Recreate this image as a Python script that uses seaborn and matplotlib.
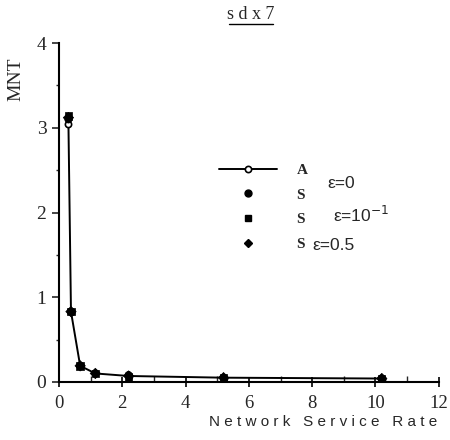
import matplotlib
matplotlib.use("Agg")
import matplotlib.pyplot as plt
import seaborn as sns
import pandas as pd
from matplotlib.lines import Line2D
from matplotlib.ticker import MultipleLocator

# network service rate (x) and MNT values
RATE = [0.3, 0.38, 0.67, 1.15, 2.2, 5.2, 10.2]
MNT_A = [3.04, 0.83, 0.19, 0.10, 0.07, 0.05, 0.04]
MNT_S_EPS0 = [3.10, 0.83, 0.19, 0.10, 0.08, 0.05, 0.04]
MNT_S_EPS01 = [3.14, 0.83, 0.19, 0.10, 0.06, 0.05, 0.04]
MNT_S_EPS05 = [3.12, 0.83, 0.19, 0.10, 0.07, 0.05, 0.04]

SERIES = ["A", "S0", "S01", "S05"]
X_TICKS = [0, 2, 4, 6, 8, 10, 12]
Y_TICKS = [0, 1, 2, 3, 4]


def main() -> None:
    sns.set_theme(style="ticks")
    plt.rcParams["font.family"] = ["Liberation Serif", "DejaVu Serif"]

    df = pd.DataFrame({
        "rate": RATE * 4,
        "mnt": MNT_A + MNT_S_EPS0 + MNT_S_EPS01 + MNT_S_EPS05,
        "series": [s for s in SERIES for _ in RATE],
    })

    fig = plt.figure(figsize=(4.5, 4.4), dpi=100)
    ax = fig.add_axes([0.131, 0.132, 0.844, 0.770])

    a = df[df["series"] == "A"]
    sns.lineplot(data=a, x="rate", y="mnt", color="black", lw=1.4,
                 marker="o", markersize=4.5, markerfacecolor="white",
                 markeredgecolor="black", markeredgewidth=1.2, ax=ax, zorder=2)
    # square / circle / diamond markers for the S runs
    sub = df[df["series"] != "A"]
    sns.scatterplot(data=sub, x="rate", y="mnt", style="series",
                    markers={"S0": "o", "S01": "s", "S05": "D"},
                    color="black", s=28, edgecolor="black", linewidth=0.5,
                    legend=False, ax=ax, zorder=3)

    ax.set_xlim(0, 12)
    ax.set_ylim(0, 4)
    ax.set_xticks(X_TICKS)
    ax.set_yticks(Y_TICKS)
    ax.xaxis.set_minor_locator(MultipleLocator(1))
    ax.yaxis.set_minor_locator(MultipleLocator(0.5))
    ax.tick_params(axis="x", which="major", direction="inout", length=7, width=1.2,
                   labelsize=13.5, pad=6, color="black")
    ax.tick_params(axis="x", which="minor", direction="in", length=4, width=1.0)
    ax.tick_params(axis="y", which="major", direction="out", length=5, width=1.2,
                   labelsize=14, pad=4)
    ax.tick_params(axis="y", which="minor", direction="out", length=2.5, width=1.0)
    for s in ["left", "bottom"]:
        ax.spines[s].set_linewidth(1.5)
        ax.spines[s].set_color("black")
    sns.despine(ax=ax)
    ax.set_xlabel("")
    ax.set_ylabel("")

    fig.text(0.035, 0.82, "MNT", rotation=90, fontsize=14, ha="center", va="center")
    fig.text(0.972, 0.042, "N e t w o r k   S e r v i c e   R a t e", fontsize=11,
             family=["Liberation Sans", "DejaVu Sans"], ha="right", va="center")
    fig.text(0.557, 0.968, "s d x 7", fontsize=13, ha="center", va="center")
    fig.add_artist(Line2D([0.508, 0.607], [0.946, 0.946], color="black", lw=1.0,
                          transform=fig.transFigure))

    handles = [
        Line2D([], [], color="black", lw=1.4, marker="o", markersize=4.5,
               markerfacecolor="white", markeredgewidth=1.2),
        Line2D([], [], color="black", lw=0, marker="o", markersize=5),
        Line2D([], [], color="black", lw=0, marker="s", markersize=5),
        Line2D([], [], color="black", lw=0, marker="D", markersize=4),
    ]
    ax.legend(handles, ["A", "S", "S", "S"], frameon=False,
              loc="upper left", bbox_to_anchor=(0.455, 0.66), bbox_transform=fig.transFigure,
              handlelength=3.8, handletextpad=1.3, labelspacing=0.72,
              prop={"family": ["Liberation Serif"], "weight": "bold", "size": 11})
    eps_font = {"family": ["Liberation Sans", "DejaVu Sans"], "size": 12.5}
    fig.text(0.728, 0.584, "ε=0", **eps_font, va="center")
    fig.text(0.74, 0.511, "ε=10$^{-1}$", **eps_font, va="center")
    fig.text(0.695, 0.443, "ε=0.5", **eps_font, va="center")

    fig.savefig("out.png", dpi=100)
    plt.close(fig)


if __name__ == "__main__":
    main()
